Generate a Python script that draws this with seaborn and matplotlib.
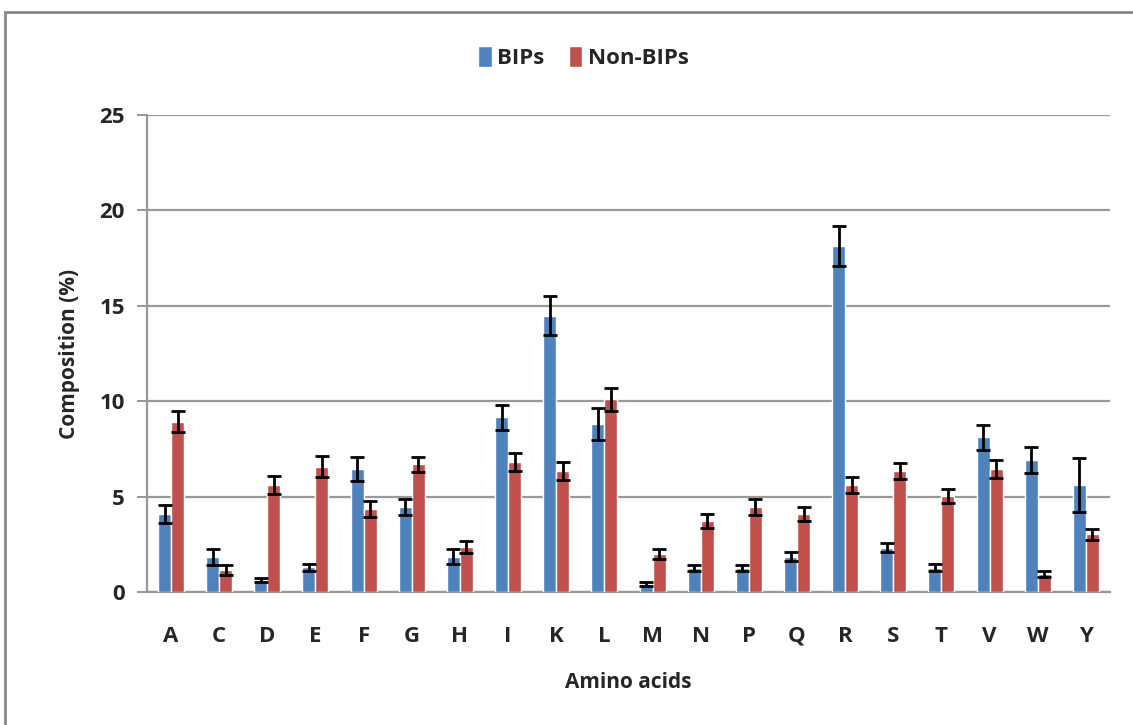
import numpy as np
import pandas as pd
import matplotlib
matplotlib.use('Agg')
import matplotlib.pyplot as plt
import seaborn as sns
from matplotlib.patches import Rectangle

# values
amino = ['A', 'C', 'D', 'E', 'F', 'G', 'H', 'I', 'K', 'L',
         'M', 'N', 'P', 'Q', 'R', 'S', 'T', 'V', 'W', 'Y']
bips = [4.1, 1.85, 0.63, 1.29, 6.45, 4.44, 1.85, 9.16, 14.48, 8.8,
        0.44, 1.26, 1.26, 1.85, 18.13, 2.32, 1.28, 8.1, 6.92, 5.61]
bips_err = [0.47, 0.42, 0.13, 0.19, 0.65, 0.41, 0.40, 0.65, 1.02, 0.83,
            0.11, 0.17, 0.17, 0.24, 1.05, 0.23, 0.18, 0.66, 0.70, 1.42]
nonbips = [8.93, 1.15, 5.62, 6.57, 4.33, 6.69, 2.34, 6.8, 6.32, 10.1,
           1.98, 3.74, 4.44, 4.09, 5.61, 6.34, 5.03, 6.45, 0.95, 3.02]
nonbips_err = [0.54, 0.25, 0.48, 0.54, 0.42, 0.41, 0.31, 0.48, 0.47, 0.59,
               0.25, 0.36, 0.41, 0.37, 0.42, 0.42, 0.36, 0.47, 0.17, 0.30]

df = pd.DataFrame({
    'aa': amino * 2,
    'val': bips + nonbips,
    'group': ['BIPs'] * len(amino) + ['Non-BIPs'] * len(amino),
})

sns.set_style('white')
plt.rcParams['font.family'] = ['Open Sans', 'DejaVu Sans']

fig = plt.figure(figsize=(11.33, 7.25), dpi=100)
ax = fig.add_axes([0.1297, 0.1834, 0.85, 0.658])

sns.barplot(data=df, x='aa', y='val', hue='group', order=amino,
            palette=['#4F81BD', '#C0504D'], saturation=1, width=0.54, gap=0,
            errorbar=None, ax=ax, zorder=3)

# error bars on the bar centres
for cont, errs in zip(ax.containers, [bips_err, nonbips_err]):
    xs = [b.get_x() + b.get_width() / 2 for b in cont]
    ys = [b.get_height() for b in cont]
    ax.errorbar(xs, ys, yerr=errs, fmt='none', ecolor='black',
                elinewidth=2, capsize=5, capthick=2, zorder=4)

ax.set_ylim(0, 25)
ax.set_xlim(-0.5, len(amino) - 0.5)
ax.set_yticks([0, 5, 10, 15, 20, 25])
ax.yaxis.grid(True, color='#999999', linewidth=1.6, zorder=0)
ax.set_axisbelow(True)

for s in ['top', 'right']:
    ax.spines[s].set_visible(False)
for s in ['left', 'bottom']:
    ax.spines[s].set_color('#999999')
    ax.spines[s].set_linewidth(1.6)

ax.set_xticks(np.arange(-0.5, len(amino)), minor=True)
ax.tick_params(axis='x', which='major', length=0, pad=32)
ax.tick_params(axis='x', which='minor', length=9, width=1.4, color='#999999')
ax.tick_params(axis='y', length=7, width=1.4, color='#999999', pad=9, left=True)
for lab in ax.get_xticklabels() + ax.get_yticklabels():
    lab.set_fontsize(16)
    lab.set_fontweight('bold')
for lab in ax.get_xticklabels():
    lab.set_verticalalignment('center')

ax.set_xlabel('Amino acids', fontsize=15, fontweight='bold', labelpad=18)
ax.set_ylabel('Composition (%)', fontsize=15, fontweight='bold', labelpad=14)

ax.legend(title=None, loc='center', bbox_to_anchor=(0.515, 0.921),
          bbox_transform=fig.transFigure, ncol=2, frameon=False,
          prop={'size': 16, 'weight': 'bold'}, handlelength=0.6,
          handleheight=1.1, handletextpad=0.25, columnspacing=1.1)

# outer chart border
fig.patches.append(Rectangle((0.004, -0.1), 1.1, 1.084, transform=fig.transFigure,
                             fill=False, edgecolor='#888888', linewidth=2))

fig.savefig('out.png', dpi=100)
